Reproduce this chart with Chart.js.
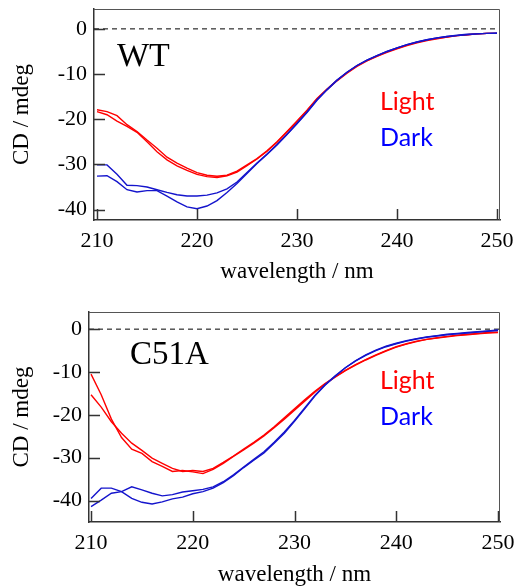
<!DOCTYPE html>
<html>
<head>
<meta charset="utf-8">
<script src="https://cdn.jsdelivr.net/npm/chart.js@4/dist/chart.umd.min.js"></script>
<style>
    html, body { margin: 0; padding: 0; background: #fff; }
    #wrap { position: relative; width: 515px; height: 586px; overflow: hidden; }
    .panel { position: absolute; left: 0; }
</style>
</head>
<body>
<div id="wrap">
    <canvas id="wtChart" class="panel" style="top:0" width="515" height="290"></canvas>
    <canvas id="c51aChart" class="panel" style="top:290px" width="515" height="296"></canvas>
</div>
<script>
// 波長 (nm)
const wavelength = [210, 211, 212, 213, 214, 215, 216, 217, 218, 219,
    220, 221, 222, 223, 224, 225, 226, 227, 228, 229,
    230, 231, 232, 233, 234, 235, 236, 237, 238, 239,
    240, 241, 242, 243, 244, 245, 246, 247, 248, 249, 250];

// WT
const wtLight1 = [-17.9, -18.3, -19.2, -21.2, -22.7, -24.6, -26.4, -28.4, -29.7, -30.8,
    -31.8, -32.4, -32.6, -32.4, -31.5, -30.1, -28.7, -27.0, -25.0, -22.7,
    -20.4, -18.0, -15.4, -13.3, -11.4, -9.7, -8.2, -7.0, -6.0, -5.1,
    -4.3, -3.6, -3.0, -2.5, -2.1, -1.8, -1.5, -1.3, -1.1, -1.0, -1.0];
const wtLight2 = [-18.3, -19.0, -20.4, -21.6, -22.9, -25.0, -27.2, -29.0, -30.3, -31.3,
    -32.2, -32.7, -32.9, -32.5, -31.7, -30.3, -28.8, -27.1, -25.1, -22.8,
    -20.5, -18.1, -15.5, -13.4, -11.5, -9.8, -8.3, -7.1, -6.1, -5.2,
    -4.4, -3.7, -3.1, -2.6, -2.2, -1.8, -1.5, -1.3, -1.1, -1.0, -1.0];
const wtDark1 = [-30.1, -30.1, -32.2, -34.6, -34.7, -35.0, -35.6, -36.2, -36.7, -37.0,
    -37.0, -36.8, -36.3, -35.4, -33.9, -31.8, -29.7, -27.7, -25.6, -23.3,
    -20.9, -18.4, -15.7, -13.4, -11.3, -9.6, -8.1, -6.9, -5.9, -5.0,
    -4.2, -3.5, -2.9, -2.4, -2.0, -1.7, -1.5, -1.3, -1.1, -1.0, -1.0];
const wtDark2 = [-32.6, -32.5, -33.8, -35.6, -36.1, -35.8, -35.8, -37.0, -38.3, -39.4,
    -39.8, -39.2, -38.0, -36.2, -34.2, -32.0, -29.8, -27.8, -25.7, -23.4,
    -21.0, -18.5, -15.8, -13.5, -11.4, -9.6, -8.1, -6.9, -5.9, -5.0,
    -4.2, -3.5, -2.9, -2.4, -2.0, -1.7, -1.4, -1.2, -1.1, -1.0, -0.9];

// C51A
const c51aLight1 = [-10.5, -15.3, -21.0, -25.3, -28.0, -29.0, -30.9, -32.0, -33.2, -33.0,
    -33.3, -33.7, -32.7, -31.3, -29.7, -28.2, -26.6, -24.9, -23.0, -21.0,
    -18.9, -16.8, -14.7, -12.8, -11.2, -9.7, -8.4, -7.2, -6.1, -5.1,
    -4.2, -3.5, -2.9, -2.4, -2.1, -1.8, -1.5, -1.3, -1.1, -0.9, -0.8];
const c51aLight2 = [-15.3, -18.2, -21.6, -24.3, -26.6, -28.3, -30.1, -31.3, -32.5, -33.2,
    -33.0, -33.2, -32.5, -31.1, -29.6, -28.0, -26.4, -24.7, -22.8, -20.7,
    -18.6, -16.5, -14.5, -12.7, -11.1, -9.6, -8.3, -7.1, -6.0, -5.0,
    -4.1, -3.4, -2.8, -2.4, -2.0, -1.7, -1.4, -1.2, -1.0, -0.8, -0.7];
const c51aDark1 = [-39.5, -37.1, -37.1, -37.9, -39.5, -40.4, -40.8, -40.3, -39.6, -39.2,
    -38.4, -37.9, -37.1, -35.8, -34.2, -32.3, -30.6, -28.9, -26.6, -24.3,
    -21.5, -18.6, -15.6, -13.1, -11.0, -9.0, -7.4, -6.0, -4.9, -4.0,
    -3.3, -2.7, -2.2, -1.8, -1.5, -1.2, -1.0, -0.8, -0.6, -0.4, -0.2];
const c51aDark2 = [-41.4, -39.9, -38.3, -37.9, -36.8, -37.5, -38.3, -38.9, -38.6, -38.0,
    -37.7, -37.4, -36.8, -35.6, -34.0, -32.2, -30.4, -28.6, -26.4, -24.0,
    -21.3, -18.4, -15.5, -13.0, -10.9, -9.0, -7.4, -6.1, -5.0, -4.1,
    -3.4, -2.8, -2.3, -1.9, -1.6, -1.3, -1.1, -0.9, -0.7, -0.5, -0.3];

// 目盛り
const xTicks = [210, 220, 230, 240, 250];
const yTicks = [0, -10, -20, -30, -40];

const SERIF = "'Liberation Serif', 'Times New Roman', serif";
const RED = '#ff0000';
const BLUE = '#1414cc';

function toPoints(values) {
    return wavelength.map((w, i) => ({ x: w, y: values[i] }));
}

function line(values, color) {
    return {
        data: toPoints(values),
        borderColor: color,
        borderWidth: 1.4,
        pointRadius: 0,
        tension: 0,
        fill: false
    };
}

// 枠・内向き目盛り・0の破線・ラベル
const cdFramePlugin = {
    id: 'cdFrame',
    beforeDatasetsDraw(chart) {
        const { ctx, chartArea: a, scales: { y } } = chart;
        const y0 = y.getPixelForValue(0);
        ctx.save();
        ctx.setLineDash([5, 4]);
        ctx.strokeStyle = '#000';
        ctx.lineWidth = 1;
        ctx.beginPath();
        ctx.moveTo(a.left, y0);
        ctx.lineTo(a.right, y0);
        ctx.stroke();
        ctx.restore();
    },
    afterDatasetsDraw(chart, args, opts) {
        const { ctx, chartArea: a, scales: { x, y } } = chart;
        ctx.save();
        // 上と右の枠
        ctx.strokeStyle = '#555';
        ctx.lineWidth = 1;
        ctx.beginPath();
        ctx.moveTo(a.left, a.top + 0.5);
        ctx.lineTo(a.right - 0.5, a.top + 0.5);
        ctx.lineTo(a.right - 0.5, a.bottom);
        ctx.stroke();
        // 内向き目盛り
        ctx.strokeStyle = '#333';
        ctx.lineWidth = 1.5;
        ctx.beginPath();
        yTicks.forEach(v => {
            const py = Math.round(y.getPixelForValue(v)) + 0.5;
            ctx.moveTo(a.left, py);
            ctx.lineTo(a.left + 11, py);
        });
        xTicks.forEach(v => {
            const px = Math.round(x.getPixelForValue(v)) + 0.5;
            ctx.moveTo(px, a.bottom);
            ctx.lineTo(px, a.bottom - 11);
        });
        ctx.stroke();

        // サンプル名
        ctx.fillStyle = '#000';
        ctx.textBaseline = 'alphabetic';
        ctx.textAlign = 'left';
        ctx.font = opts.nameSize + 'px ' + SERIF;
        ctx.fillText(opts.name, opts.nameX, opts.nameY);

        // Light / Dark
        ctx.font = '25px Lato, "Open Sans", sans-serif';
        ctx.fillStyle = '#ff0000';
        ctx.fillText('Light', opts.legendX, opts.legendY);
        ctx.fillStyle = '#0000ff';
        ctx.fillText('Dark', opts.legendX, opts.legendY + 36);
        ctx.restore();
    }
};

function makeOptions(p) {
    return {
        responsive: false,
        animation: false,
        events: [],
        layout: {
            padding: { top: p.top, right: 15, left: 0, bottom: 0 }
        },
        scales: {
            x: {
                type: 'linear',
                min: p.xMin,
                max: p.xMax,
                afterBuildTicks: s => { s.ticks = xTicks.map(v => ({ value: v })); },
                afterFit: s => { s.height = p.xAxisHeight; s.paddingLeft = 0; s.paddingRight = 0; },
                grid: { display: false, drawTicks: false },
                border: { display: true, color: '#333', width: 1.5 },
                ticks: {
                    color: '#000',
                    padding: 8,
                    maxRotation: 0,
                    autoSkip: false,
                    font: { family: SERIF, size: 22 }
                },
                title: {
                    display: true,
                    text: 'wavelength / nm',
                    color: '#000',
                    padding: { top: 0, bottom: p.xTitlePad },
                    font: { family: SERIF, size: 23, lineHeight: 1 }
                }
            },
            y: {
                type: 'linear',
                min: p.yMin,
                max: p.yMax,
                afterBuildTicks: s => { s.ticks = yTicks.map(v => ({ value: v })); },
                afterFit: s => { s.width = p.yAxisWidth; s.paddingTop = 0; s.paddingBottom = 0; },
                grid: { display: false, drawTicks: false },
                border: { display: true, color: '#333', width: 1.5 },
                ticks: {
                    color: '#000',
                    padding: 7,
                    font: { family: SERIF, size: 22 }
                },
                title: {
                    display: true,
                    text: 'CD / mdeg',
                    color: '#000',
                    padding: { top: 10.5, bottom: 0 },
                    font: { family: SERIF, size: 23, lineHeight: 1 }
                }
            }
        },
        plugins: {
            legend: { display: false },
            tooltip: { enabled: false },
            cdFrame: {
                name: p.name,
                nameSize: p.nameSize,
                nameX: p.nameX,
                nameY: p.nameY,
                legendX: 380,
                legendY: p.legendY
            }
        }
    };
}

document.addEventListener('DOMContentLoaded', function () {
    // WT
    const wtCanvas = document.getElementById('wtChart');
    new Chart(wtCanvas, {
        type: 'line',
        data: {
            datasets: [
                line(wtDark1, BLUE),
                line(wtDark2, BLUE),
                line(wtLight1, RED),
                line(wtLight2, RED)
            ]
        },
        options: makeOptions({
            top: 9, xAxisHeight: 70, yAxisWidth: 94,
            xMin: 209.7, xMax: 250.3, yMin: -42.3, yMax: 4.4,
            xTitlePad: 6.5,
            name: 'WT', nameSize: 34, nameX: 117, nameY: 66,
            legendY: 110
        }),
        plugins: [cdFramePlugin]
    });

    // C51A
    const c51aCanvas = document.getElementById('c51aChart');
    new Chart(c51aCanvas, {
        type: 'line',
        data: {
            datasets: [
                line(c51aDark1, BLUE),
                line(c51aDark2, BLUE),
                line(c51aLight1, RED),
                line(c51aLight2, RED)
            ]
        },
        options: makeOptions({
            top: 22, xAxisHeight: 64, yAxisWidth: 89,
            xMin: 209.8, xMax: 250.2, yMin: -45, yMax: 4,
            xTitlePad: 0,
            name: 'C51A', nameSize: 33, nameX: 130, nameY: 74,
            legendY: 99
        }),
        plugins: [cdFramePlugin]
    });
});
</script>
</body>
</html>
